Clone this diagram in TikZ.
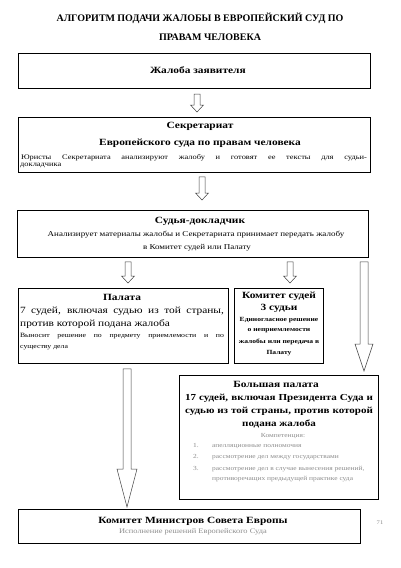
\documentclass[tikz,border=0pt]{standalone}
\usepackage{fontspec}
\setmainfont{Liberation Serif}[FakeStretch=1.2]
\newfontfamily\titlefont{Liberation Serif}
\usetikzlibrary{calc}
\definecolor{fadegray}{gray}{0.55}
\begin{document}
\begin{tikzpicture}[x=1pt,y=-1pt]
\tikzstyle{every node}+=[inner sep=0pt]
\tikzstyle{box}=[draw=black,line width=0.8pt,rectangle,anchor=north west]
\tikzstyle{title}=[font=\titlefont\fontsize{10}{12}\selectfont\bfseries]
\tikzstyle{head}=[font=\fontsize{9.5}{11}\selectfont\bfseries]
\tikzstyle{big}=[font=\fontsize{9.5}{11}\selectfont\bfseries]
\tikzstyle{plain}=[font=\fontsize{9.5}{11}\selectfont]
\tikzstyle{small}=[font=\fontsize{7.5}{9}\selectfont]
\tikzstyle{tight}=[font=\fontsize{6.3}{8}\selectfont\bfseries]
\tikzstyle{faded}=[font=\fontsize{6.2}{7}\selectfont,text=fadegray]
\tikzset{blockarrow/.style n args={3}{draw=black!75,line width=0.5pt,fill=white,
  to path={let \p1=(\tikztostart),\p2=(\tikztotarget) in
  (\x1-#1,\y1) -- (\x1-#1,\y2+#3) -- (\x1-#2,\y2+#3) -- (\x1,\y2)
  -- (\x1+#2,\y2+#3) -- (\x1+#1,\y2+#3) -- (\x1+#1,\y1) -- cycle}}}
\fill[white] (0,0) rectangle (401,568);
\useasboundingbox (0,0) rectangle (401,568);
\node[title] (t1) at (200,18) {АЛГОРИТМ ПОДАЧИ ЖАЛОБЫ В ЕВРОПЕЙСКИЙ СУД ПО};
\node[title] (t2) at (210,37) {ПРАВАМ ЧЕЛОВЕКА};
\node[box,line width=1.1pt,minimum width=352pt,minimum height=35pt] (claim) at (18,53) {};
\node[head] (claimtxt) at (198,70) {Жалоба заявителя};
\node[box,minimum width=352pt,minimum height=55pt] (clerk) at (18,117) {};
\node[head] (clerk1) at (200,126) {Секретариат};
\node[big] (clerk2) at (200,143) {Европейского суда по правам человека};
\node[font=\fontsize{7}{8}\selectfont] (clerk3) at (194,158) {\makebox[346pt][s]{Юристы Секретариата анализируют жалобу и готовят ее тексты для судьи-}};
\node[font=\fontsize{7}{8}\selectfont,anchor=west] (clerk4) at (20,166) {докладчика};
\node[box,minimum width=351pt,minimum height=47pt] (judge) at (17,210) {};
\node[head] (judge1) at (200,221) {Судья-докладчик};
\node[small] (judge2) at (196,235) {Анализирует материалы жалобы и Секретариата принимает передать жалобу};
\node[small] (judge3) at (197,248) {в Комитет судей или Палату};
\node[box,minimum width=210pt,minimum height=75pt] (chamber) at (18,288) {};
\node[head] (cham1) at (122,297) {Палата};
\node[plain] (cham2) at (122,311) {\makebox[204pt][s]{7 судей, включая судью из той страны,}};
\node[plain,anchor=west] (cham3) at (20,324) {против которой подана жалоба};
\node[font=\fontsize{6.5}{8}\selectfont] (cham4) at (122,336) {\makebox[204pt][s]{Выносит решение по предмету приемлемости и по}};
\node[font=\fontsize{6.5}{8}\selectfont,anchor=west] (cham5) at (20,348) {существу дела};
\node[box,minimum width=89pt,minimum height=75pt] (committee) at (234,288) {};
\node[head] (comm1) at (279,296) {Комитет судей};
\node[head] (comm2) at (279,308) {3 судьи};
\node[tight] (comm3) at (279,320) {Единогласное решение};
\node[tight] (comm4) at (279,331) {о неприемлемости};
\node[tight] (comm5) at (279,342) {жалобы или передача в};
\node[tight] (comm6) at (279,353) {Палату};
\node[box,minimum width=199pt,minimum height=124pt] (grand) at (179,375) {};
\node[head] (grand1) at (276,384) {Большая палата};
\node[big,font=\fontsize{9.2}{11}\selectfont\bfseries] (grand2) at (279,398) {\makebox[188pt][s]{17 судей, включая Президента Суда и}};
\node[big,font=\fontsize{9.2}{11}\selectfont\bfseries] (grand3) at (279,411) {\makebox[188pt][s]{судью из той страны, против которой}};
\node[big,font=\fontsize{9.2}{11}\selectfont\bfseries] (grand4) at (279,424) {подана жалоба};
\node[faded] (grand5) at (283,436) {Компетенция:};
\node[faded,anchor=west] (grand6) at (193,446) {\makebox[19pt][l]{1.}апелляционные полномочия};
\node[faded,anchor=west] (grand7) at (193,457) {\makebox[19pt][l]{2.}рассмотрение дел между государствами};
\node[faded,anchor=west] (grand8) at (193,469) {\makebox[19pt][l]{3.}рассмотрение дел в случае вынесения решений,};
\node[faded,anchor=west] (grand9) at (212,479) {противоречащих предыдущей практике суда};
\node[box,minimum width=342pt,minimum height=34pt] (council) at (18,509) {};
\node[head] (coun1) at (193,521) {Комитет Министров Совета Европы};
\node[faded,font=\fontsize{7}{8}\selectfont] (coun2) at (193,532) {Исполнение решений Европейского Суда};
\node[faded,font=\fontsize{5.5}{6}\selectfont] (page) at (380,523) {71};
\coordinate (xa) at (197,0);
\coordinate (xb) at (202,0);
\coordinate (xc) at (128,0);
\coordinate (xd) at (290,0);
\coordinate (xe) at (364,0);
\coordinate (xf) at (127,0);
\draw[blockarrow={3pt}{6.5pt}{7pt}] ([yshift=-5pt]claim.south -| xa) to ([yshift=5pt]clerk.north -| xa);
\draw[blockarrow={3pt}{6.5pt}{7pt}] ([yshift=-4pt]clerk.south -| xb) to ([yshift=10pt]judge.north -| xb);
\draw[blockarrow={3pt}{6.5pt}{7pt}] ([yshift=-4pt]judge.south -| xc) to ([yshift=5pt]chamber.north -| xc);
\draw[blockarrow={3pt}{6.5pt}{7pt}] ([yshift=-4pt]judge.south -| xd) to ([yshift=5pt]committee.north -| xd);
\draw[blockarrow={4pt}{9pt}{27pt}] ([yshift=-4pt]judge.south -| xe) to ([yshift=4pt]grand.north -| xe);
\draw[blockarrow={4pt}{10pt}{38pt}] ([yshift=-5pt]chamber.south -| xf) to ([yshift=2pt]council.north -| xf);
\end{tikzpicture}
\end{document}
